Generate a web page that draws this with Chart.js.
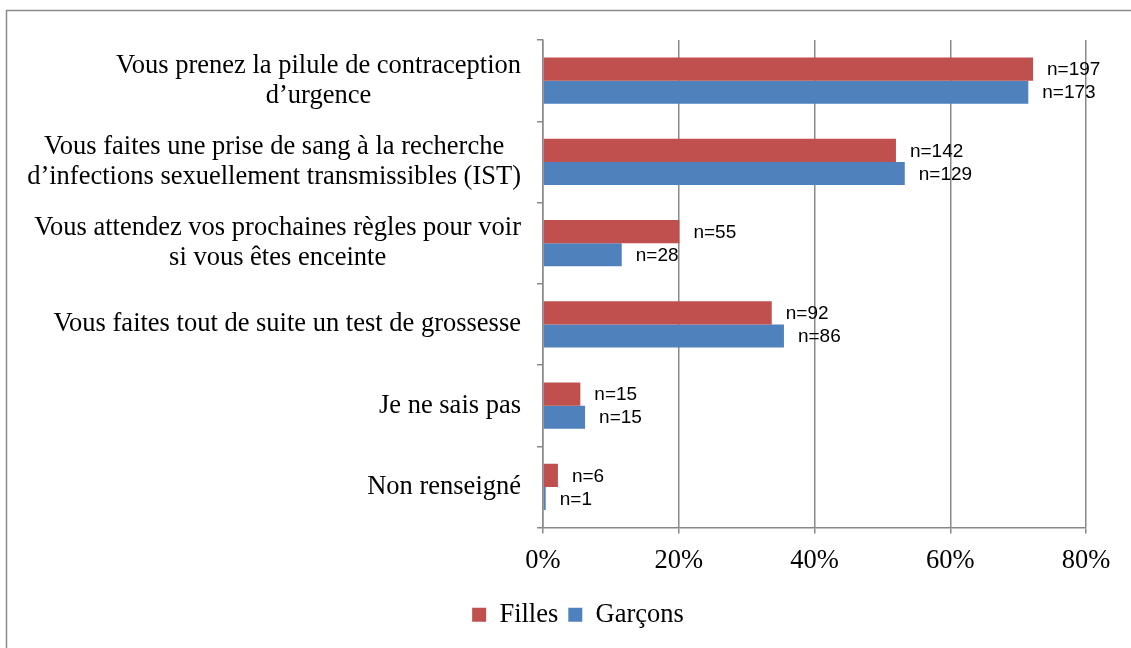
<!DOCTYPE html>
<html>
<head>
<meta charset="utf-8">
<script src="https://cdn.jsdelivr.net/npm/chart.js@4.4.1/dist/chart.umd.min.js"></script>
<style>
  html, body { margin: 0; padding: 0; background: #fff; }
  #wrap { width: 1131px; height: 648px; position: relative; }
</style>
</head>
<body>
<div id="wrap"><canvas id="chart"></canvas></div>
<script>
// categories (one array of lines per label)
var categories = [
    ['Vous prenez la pilule de contraception', 'd\u2019urgence'],
    ['Vous faites une prise de sang \u00e0 la recherche', 'd\u2019infections sexuellement transmissibles (IST)'],
    ['Vous attendez vos prochaines r\u00e8gles pour voir', 'si vous \u00eates enceinte'],
    ['Vous faites tout de suite un test de grossesse'],
    ['Je ne sais pas'],
    ['Non renseign\u00e9']
];

// percentages
var filles  = [72.2, 52.0, 20.1, 33.7, 5.5, 2.2];
var garcons = [71.5, 53.3, 11.6, 35.5, 6.2, 0.4];

// counts shown next to the bars
var nFilles  = [197, 142, 55, 92, 15, 6];
var nGarcons = [173, 129, 28, 86, 15, 1];

var xTicks = [0, 20, 40, 60, 80];

var GRID = '#898989';
var SERIF = '"Liberation Serif", "Times New Roman", serif';

// frame of the original picture (left and top edges only are visible)
var framePlugin = {
    id: 'frame',
    beforeDraw: function(chart) {
        var c = chart.ctx;
        c.save();
        c.strokeStyle = '#8c8c8c';
        c.lineWidth = 1.5;
        c.beginPath();
        c.moveTo(6.5, 700);
        c.lineTo(6.5, 10.5);
        c.lineTo(1200, 10.5);
        c.stroke();
        c.restore();
    }
};

// category labels: lines centred with each other, block right aligned to the axis
var catLabelPlugin = {
    id: 'catLabels',
    afterDraw: function(chart) {
        var c = chart.ctx;
        var yScale = chart.scales.y;
        var right = chart.chartArea.left - 22;
        c.save();
        c.font = '26.5px ' + SERIF;
        c.fillStyle = '#000';
        c.textAlign = 'center';
        c.textBaseline = 'middle';
        categories.forEach(function(lines, i) {
            var w = 0;
            lines.forEach(function(l) { w = Math.max(w, c.measureText(l).width); });
            var cy = yScale.getPixelForValue(i);
            var lh = 30;
            var y0 = cy - (lines.length - 1) * lh / 2;
            lines.forEach(function(l, k) {
                c.fillText(l, right - w / 2, y0 + k * lh);
            });
        });
        c.restore();
    }
};

// "n=" labels to the right of each bar
var countPlugin = {
    id: 'counts',
    afterDatasetsDraw: function(chart) {
        var c = chart.ctx;
        var counts = [nFilles, nGarcons];
        c.save();
        c.font = '19px "Liberation Sans", Arial, sans-serif';
        c.fillStyle = '#000';
        c.textAlign = 'left';
        c.textBaseline = 'middle';
        chart.data.datasets.forEach(function(ds, d) {
            chart.getDatasetMeta(d).data.forEach(function(bar, i) {
                c.fillText('n=' + counts[d][i], bar.x + 14, bar.y + 1);
            });
        });
        c.restore();
    }
};

var ctx = document.getElementById('chart').getContext('2d');
var chart = new Chart(ctx, {
    type: 'bar',
    data: {
        labels: categories.map(function(l) { return l.join(' '); }),
        datasets: [{
            label: 'Filles',
            data: filles,
            backgroundColor: '#C0504D',
            categoryPercentage: 0.57,
            barPercentage: 1.0
        }, {
            label: 'Gar\u00e7ons',
            data: garcons,
            backgroundColor: '#4F81BD',
            categoryPercentage: 0.57,
            barPercentage: 1.0
        }]
    },
    options: {
        indexAxis: 'y',
        responsive: true,
        maintainAspectRatio: false,
        animation: false,
        layout: {
            padding: { left: 70, right: 45, top: 40, bottom: 10 }
        },
        scales: {
            x: {
                min: 0,
                max: 80,
                afterBuildTicks: function(scale) {
                    scale.ticks = xTicks.map(function(v) { return { value: v }; });
                },
                afterFit: function(scale) { scale.height = 64; },
                grid: { color: GRID, lineWidth: 1.5, tickLength: 6 },
                border: { color: GRID, width: 1.5 },
                ticks: {
                    color: '#000',
                    font: { family: SERIF, size: 26.5 },
                    padding: 12,
                    callback: function(v) { return v + '%'; }
                }
            },
            y: {
                afterFit: function(scale) { scale.width = 473; },
                grid: { drawOnChartArea: false, color: GRID, lineWidth: 1.5, tickLength: 6 },
                border: { color: GRID, width: 1.5 },
                ticks: { display: false }
            }
        },
        plugins: {
            legend: {
                position: 'bottom',
                labels: {
                    color: '#000',
                    font: { family: SERIF, size: 26.5 },
                    boxWidth: 14,
                    boxHeight: 14,
                    padding: 10
                }
            },
            tooltip: { enabled: false }
        }
    },
    plugins: [framePlugin, catLabelPlugin, countPlugin]
});
</script>
</body>
</html>
